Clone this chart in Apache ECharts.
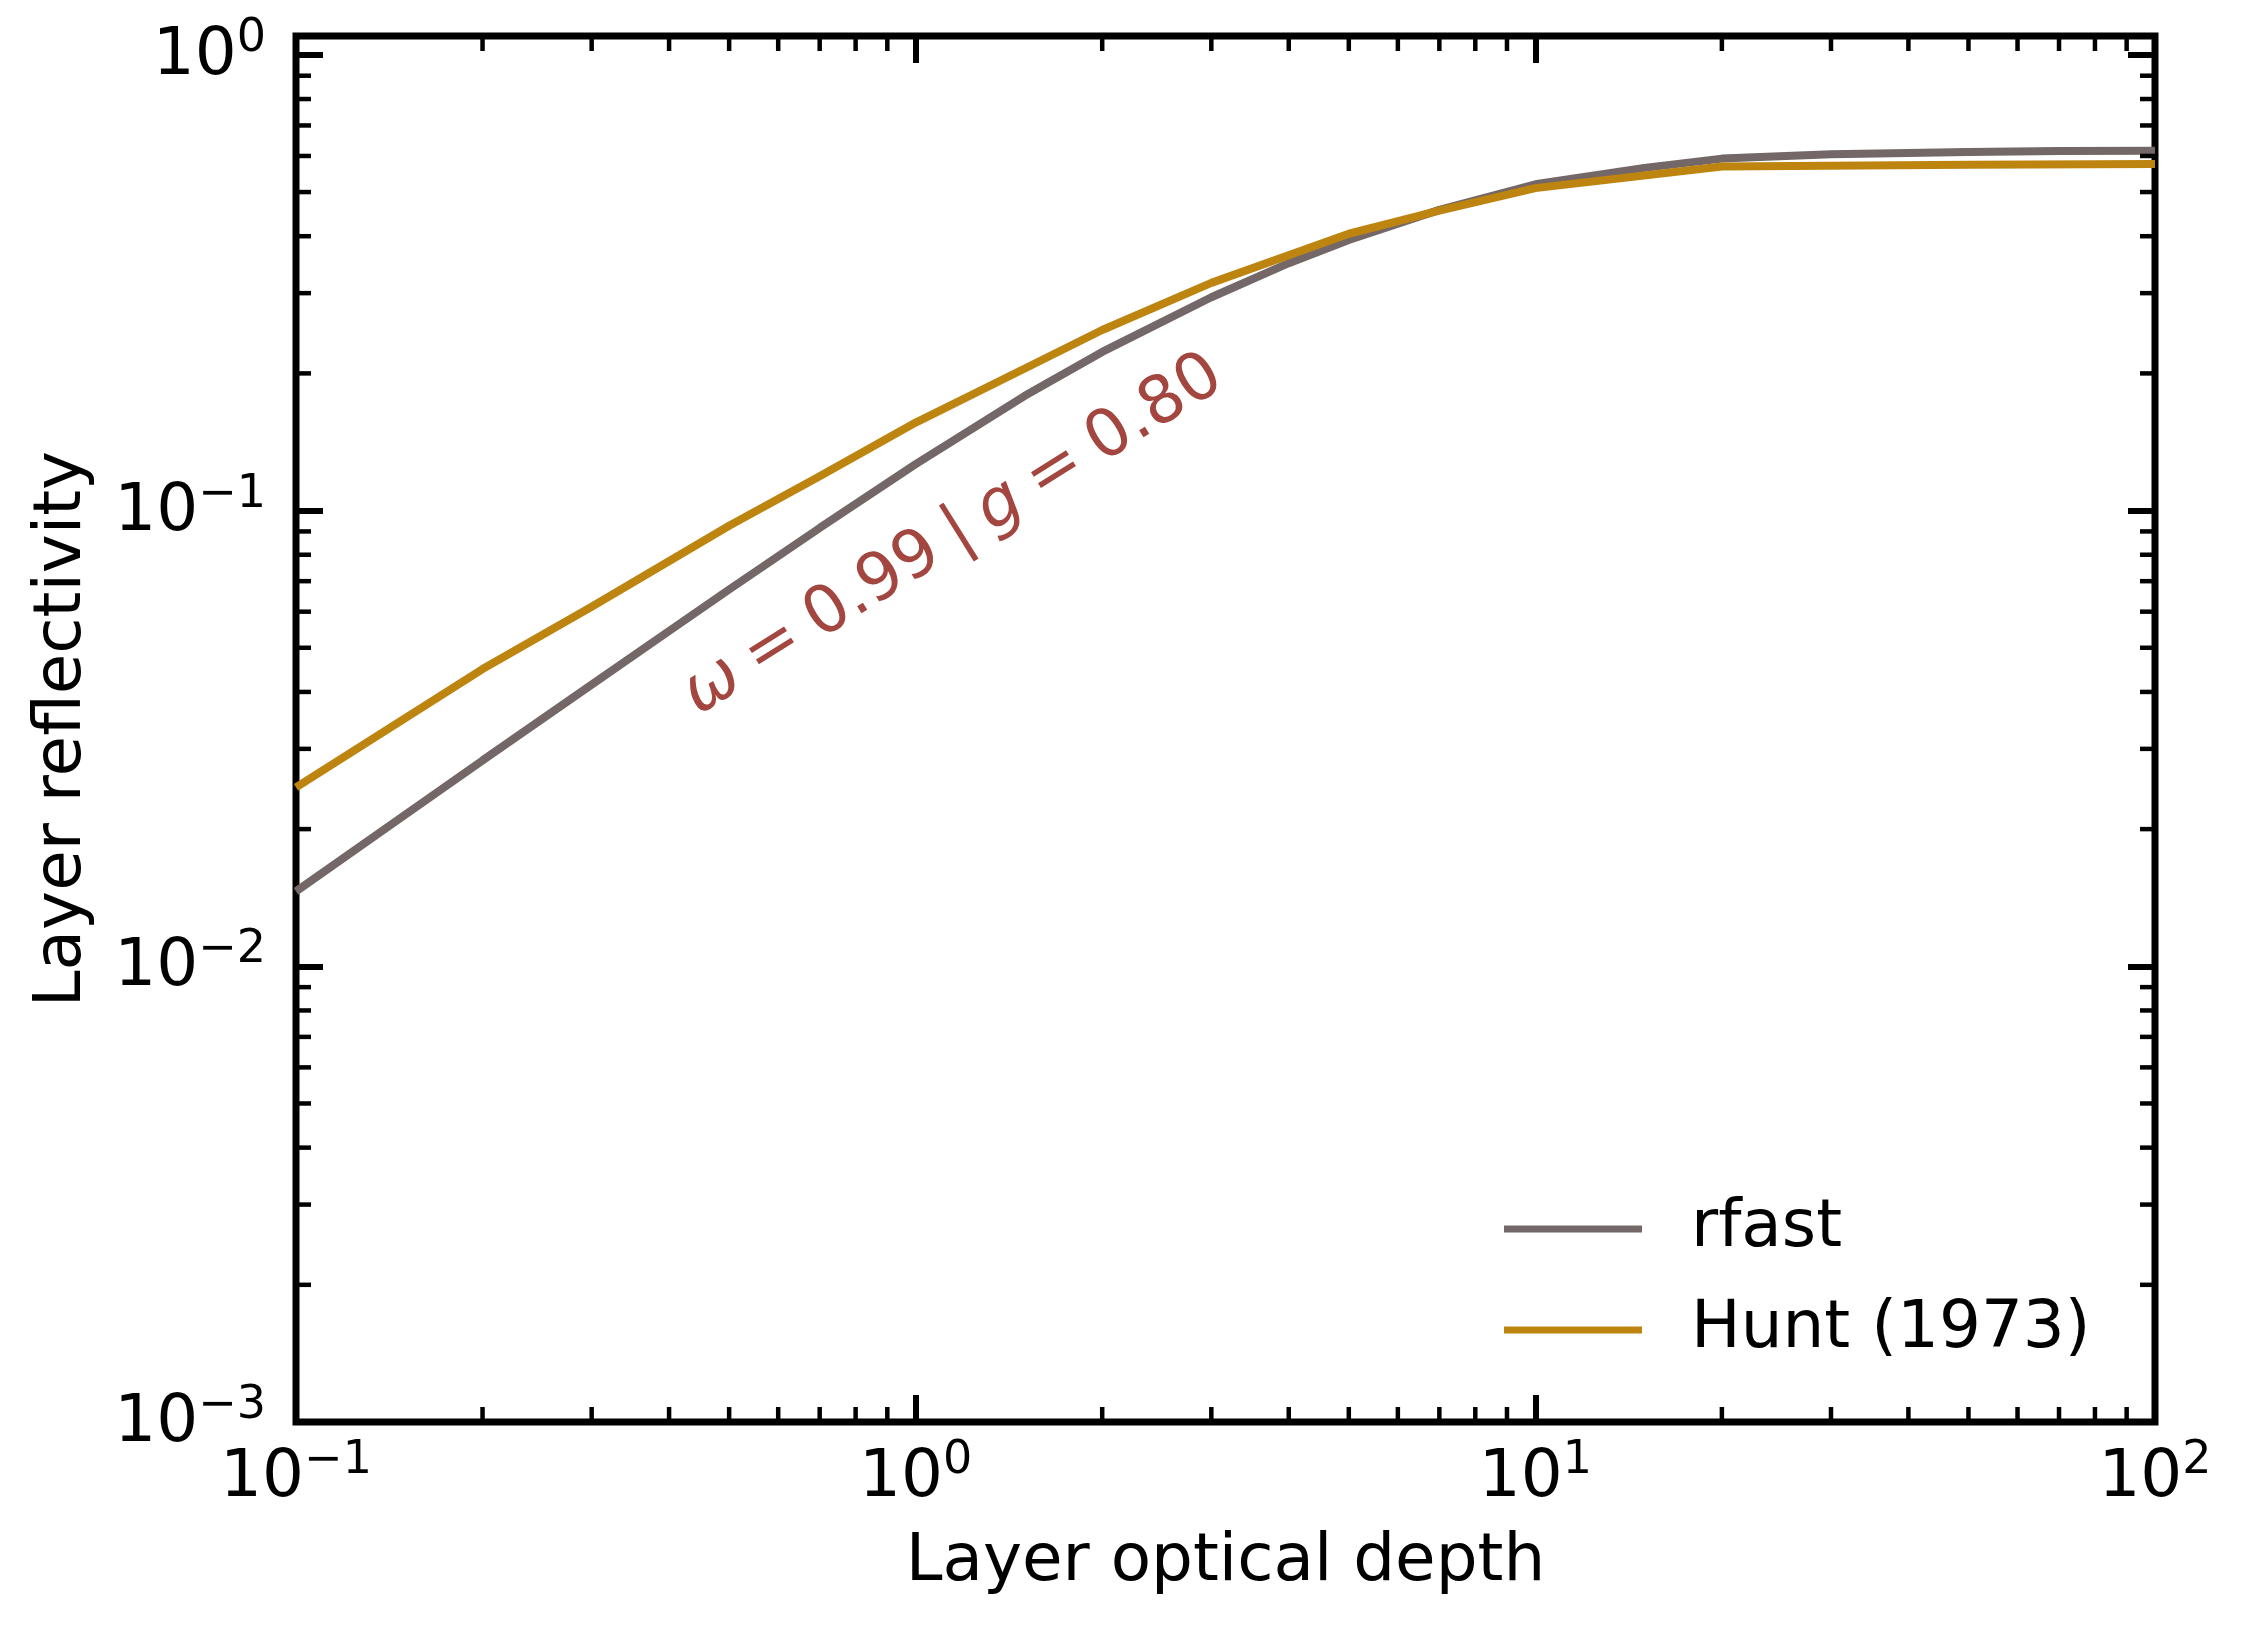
<!DOCTYPE html>
<html>
<head>
<meta charset="utf-8">
<title>Layer reflectivity</title>
<script src="https://cdn.jsdelivr.net/npm/echarts@6/dist/echarts.min.js"></script>
<style>
html, body { margin: 0; padding: 0; background: #fff; }
#main { width: 2242px; height: 1631px; }
</style>
</head>
<body>
<div id="main"></div>
<script>
/* values */
var rfastTau = [0.1, 0.15, 0.2, 0.3, 0.4, 0.5, 0.7, 1, 1.5, 2, 3, 4, 5, 7, 10, 15, 20, 30, 50, 70, 100];
var rfastR = [0.0146, 0.0215, 0.0283, 0.0415, 0.0544, 0.0671, 0.0916, 0.1265, 0.1786, 0.2229, 0.2938, 0.349, 0.3926, 0.457, 0.520, 0.565, 0.592, 0.605, 0.612, 0.615, 0.616];
var huntTau = [0.1, 0.2, 0.3, 0.5, 0.7, 1, 1.5, 2, 3, 5, 7, 10, 20, 50, 100];
var huntR = [0.0247, 0.0449, 0.0615, 0.0926, 0.119, 0.156, 0.205, 0.249, 0.316, 0.405, 0.455, 0.51, 0.569, 0.574, 0.576];

var xRange = [0.1, 100];
var yRange = [0.001, 1.1];
var xMajorTicks = [0.1, 1, 10, 100];
var yMajorTicks = [0.001, 0.01, 0.1, 1];
var minorMantissas = [2, 3, 4, 5, 6, 7, 8, 9];

var seriesNames = ['rfast', 'Hunt (1973)'];
var annotationText = '{i|\u03c9}\u2005=\u20050.99\u2005|\u2005{i|g}\u2005=\u20050.80';

var FONT = '"DejaVu Sans", sans-serif';
var colors = ['#736767', '#bd850f'];

function pairs(xs, ys) {
    var out = [];
    xs.forEach(function (x, i) {
        out.push([x, ys[i]]);
    });
    return out;
}

function isPower(v, majors) {
    for (var i = 0; i < majors.length; i++) {
        if (Math.abs(Math.log10(v) - Math.log10(majors[i])) < 1e-6) return true;
    }
    return false;
}

function powerLabel(majors) {
    return function (v) {
        if (!isPower(v, majors)) return '';
        var e = Math.round(Math.log10(v));
        var s = e < 0 ? '\u2212' + (-e) : '' + e;
        return '{b|10}{s|' + s + '}';
    };
}

var richPow = {
    b: { fontSize: 66, lineHeight: 70, fontFamily: FONT, color: '#000', verticalAlign: 'bottom' },
    s: { fontSize: 46, lineHeight: 46, fontFamily: FONT, color: '#000', verticalAlign: 'bottom', padding: [0, 0, 28, 0] }
};

var majorTick = { show: true, inside: true, length: 27, lineStyle: { color: '#000', width: 6 } };

function logAxis(range, extra) {
    var ax = {
        type: 'log',
        logBase: 10,
        min: range[0],
        max: range[1],
        axisLine: { show: false },
        axisTick: majorTick,
        splitLine: { show: false },
        axisLabel: { show: false }
    };
    for (var k in extra) ax[k] = extra[k];
    return ax;
}

var box = document.getElementById('main');
var chart = echarts.init(box, null, { renderer: 'canvas' });

var option = {
    backgroundColor: '#fff',
    animation: false,
    grid: {
        left: 296, right: 87, top: 36, bottom: 209,
        show: true,
        borderColor: '#000',
        borderWidth: 7,
        backgroundColor: 'transparent'
    },
    legend: {
        orient: 'vertical',
        left: 1504,
        top: 1196,
        padding: 0,
        itemGap: 35,
        itemWidth: 138,
        itemHeight: 7,
        icon: 'rect',
        data: seriesNames,
        textStyle: { fontSize: 66, lineHeight: 66, fontFamily: FONT, color: '#000', padding: [0, 0, 0, 44] }
    },
    xAxis: [
        logAxis(xRange, {
            position: 'bottom',
            name: 'Layer optical depth',
            nameLocation: 'middle',
            nameGap: 108,
            nameMoveOverlap: false,
            nameTextStyle: { fontSize: 66, lineHeight: 66, fontFamily: FONT, color: '#000' },
            axisLabel: {
                show: true, margin: 20, showMinLabel: true, showMaxLabel: true,
                formatter: powerLabel(xMajorTicks), rich: richPow
            }
        }),
        logAxis(xRange, { position: 'top' })
    ],
    yAxis: [
        logAxis(yRange, {
            position: 'left',
            name: 'Layer reflectivity',
            nameLocation: 'middle',
            nameGap: 200,
            nameTextStyle: { fontSize: 66, fontFamily: FONT, color: '#000' },
            axisLabel: {
                show: true, margin: 30, showMinLabel: true, showMaxLabel: true,
                formatter: powerLabel(yMajorTicks), rich: richPow
            }
        }),
        logAxis(yRange, { position: 'right' })
    ],
    series: [
        {
            name: seriesNames[0],
            type: 'line',
            data: pairs(rfastTau, rfastR),
            showSymbol: false,
            symbol: 'none',
            color: colors[0],
            lineStyle: { color: colors[0], width: 8 },
            z: 2
        },
        {
            name: seriesNames[1],
            type: 'line',
            data: pairs(huntTau, huntR),
            showSymbol: false,
            symbol: 'none',
            color: colors[1],
            lineStyle: { color: colors[1], width: 8 },
            z: 3
        }
    ]
};
chart.setOption(option);

/* minor ticks on all four sides + rotated annotation */
function decorate() {
    var els = [];
    var left = chart.convertToPixel({ xAxisIndex: 0 }, xRange[0]);
    var right = chart.convertToPixel({ xAxisIndex: 0 }, xRange[1]);
    var bottom = chart.convertToPixel({ yAxisIndex: 0 }, yRange[0]);
    var top = chart.convertToPixel({ yAxisIndex: 0 }, yRange[1]);
    var len = 15;
    var tickStyle = { stroke: '#000', lineWidth: 4.5 };

    xMajorTicks.forEach(function (d) {
        minorMantissas.forEach(function (m) {
            var v = d * m;
            if (v <= xRange[0] || v >= xRange[1]) return;
            var px = chart.convertToPixel({ xAxisIndex: 0 }, v);
            els.push({ type: 'line', silent: true, shape: { x1: px, y1: bottom, x2: px, y2: bottom - len }, style: tickStyle, z: 50 });
            els.push({ type: 'line', silent: true, shape: { x1: px, y1: top, x2: px, y2: top + len }, style: tickStyle, z: 50 });
        });
    });
    yMajorTicks.forEach(function (d) {
        minorMantissas.forEach(function (m) {
            var v = d * m;
            if (v <= yRange[0] || v >= yRange[1]) return;
            var py = chart.convertToPixel({ yAxisIndex: 0 }, v);
            els.push({ type: 'line', silent: true, shape: { x1: left, y1: py, x2: left + len, y2: py }, style: tickStyle, z: 50 });
            els.push({ type: 'line', silent: true, shape: { x1: right, y1: py, x2: right - len, y2: py }, style: tickStyle, z: 50 });
        });
    });

    var c = chart.convertToPixel({ gridIndex: 0 }, [1.15, 0.088]);
    els.push({
        type: 'text',
        silent: true,
        x: c[0],
        y: c[1],
        rotation: 32 * Math.PI / 180,
        z: 60,
        style: {
            text: annotationText,
            fontSize: 66,
            fontFamily: FONT,
            fill: '#a2463f',
            align: 'center',
            verticalAlign: 'middle',
            rich: {
                i: { fontSize: 66, fontFamily: FONT, fontStyle: 'italic', fill: '#a2463f' }
            }
        }
    });

    chart.setOption({ graphic: { elements: els } });
}
decorate();
</script>
</body>
</html>
